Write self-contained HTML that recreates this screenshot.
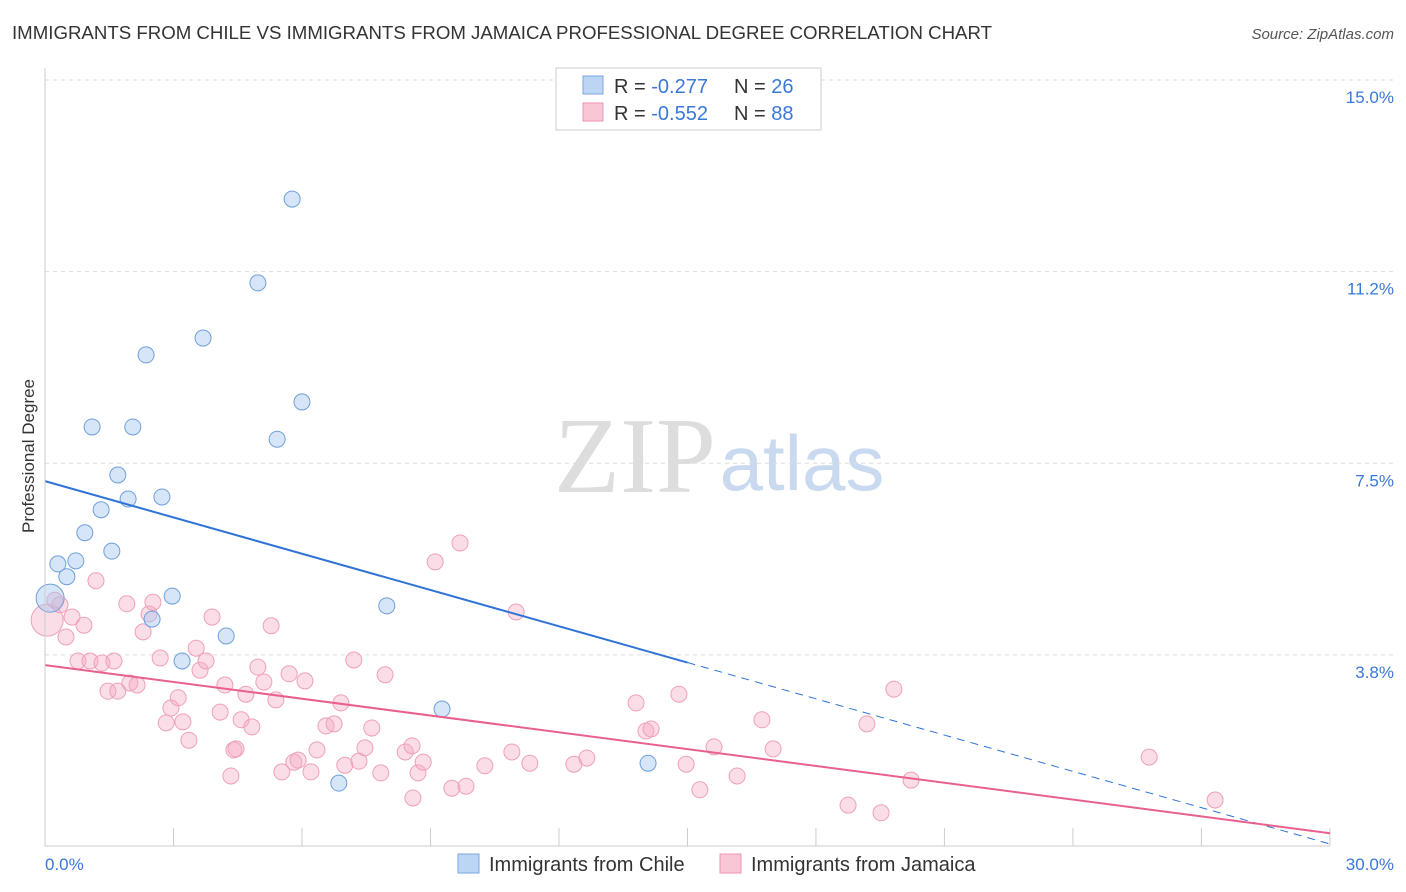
<!DOCTYPE html>
<html><head><meta charset="utf-8">
<style>
body{margin:0;background:#fff;font-family:"Liberation Sans",sans-serif;}
#wrap{position:relative;width:1406px;height:892px;overflow:hidden;}
</style></head>
<body>
<div id="wrap">
<svg id="svg" width="1406" height="892" xmlns="http://www.w3.org/2000/svg">
<text x="12" y="39" font-size="18" fill="#333" textLength="980" lengthAdjust="spacingAndGlyphs">IMMIGRANTS FROM CHILE VS IMMIGRANTS FROM JAMAICA PROFESSIONAL DEGREE CORRELATION CHART</text>
<text x="1394" y="39" font-size="15" fill="#555" font-style="italic" text-anchor="end">Source: ZipAtlas.com</text>
<text x="635" y="492" font-size="108" fill="#ddd" font-family="Liberation Serif,serif" text-anchor="middle">ZIP</text>
<text x="802" y="490" font-size="78" fill="#c9daf0" text-anchor="middle">atlas</text>
<text x="34" y="456" font-size="17" fill="#333" text-anchor="middle" transform="rotate(-90 34 456)">Professional Degree</text>
<g id="grid"></g><g id="pts"></g><g id="lines"></g>
<line x1="45" y1="68" x2="45" y2="846" stroke="#ccc"/>
<line x1="45" y1="846" x2="1330" y2="846" stroke="#ccc"/>
<text x="45" y="870" font-size="17" fill="#3a78d8">0.0%</text>
<text x="1394" y="870" font-size="17" fill="#3a78d8" text-anchor="end">30.0%</text>
<g>
<rect x="556" y="68" width="265" height="62" fill="#fff" stroke="#ccc"/>
<rect x="583" y="76" width="20" height="18" fill="#bcd5f5" stroke="#7aa6e0"/>
<rect x="583" y="103" width="20" height="18" fill="#f9c6d6" stroke="#ef95b3"/>
<text x="614" y="93" font-size="20" fill="#333">R = <tspan fill="#3a78d8">-0.277</tspan><tspan x="734">N = </tspan><tspan fill="#3a78d8">26</tspan></text>
<text x="614" y="120" font-size="20" fill="#333">R = <tspan fill="#3a78d8">-0.552</tspan><tspan x="734">N = </tspan><tspan fill="#3a78d8">88</tspan></text>
</g>
<g>
<rect x="458" y="854" width="21" height="19" fill="#bcd5f5" stroke="#7aa6e0"/>
<text x="489" y="871" font-size="20" fill="#333">Immigrants from Chile</text>
<rect x="720" y="854" width="21" height="19" fill="#f9c6d6" stroke="#ef95b3"/>
<text x="751" y="871" font-size="20" fill="#333">Immigrants from Jamaica</text>
</g>
</svg>
</div>
<script>
const yTicks=[15.0,11.25,7.5,3.75];
const yTickLabels=["15.0%","11.2%","7.5%","3.8%"];
const xTicks=[3,6,9,12,15,18,21,24,27,30];
const chileX=[5.77,4.97,3.69,2.36,6.0,1.10,2.05,5.42,1.70,2.73,1.94,1.31,0.93,1.56,0.30,0.72,0.51,2.97,2.50,4.23,3.20,7.98,9.27,6.86,14.08];
const chileY=[12.67,11.03,9.95,9.62,8.7,8.21,8.21,7.97,7.27,6.84,6.80,6.59,6.14,5.78,5.53,5.59,5.28,4.90,4.45,4.12,3.63,4.71,2.69,1.24,1.63];
const chilePx=[[47,620],[55,600],[60,605],[66,637],[72,617],[84,625],[78,661],[90,661],[96,581],[102,663],[108,691],[114,661],[118,691],[127,604],[130,683],[137,685],[143,632],[149,614],[153,602],[160,658],[166,723],[171,708],[178,698],[183,722],[189,740],[196,648],[200,670],[206,661],[212,617],[220,712],[225,685],[234,750],[236,749],[231,776],[241,720],[246,694],[252,727],[258,667],[264,682],[271,626],[276,700],[282,772],[289,674],[294,762],[298,760],[305,681],[311,772],[317,750],[326,726],[334,724],[341,703],[345,765],[354,660],[359,761],[365,748],[372,728],[381,773],[385,675],[405,752],[412,746],[418,773],[423,762],[413,798],[435,562],[452,788],[460,543],[466,786],[485,766],[512,752],[516,612],[530,763],[574,764],[587,758],[636,703],[646,731],[651,729],[679,694],[686,764],[700,790],[714,747],[737,776],[762,720],[773,749],[848,805],[867,724],[881,813],[894,689],[911,780],[1149,757],[1215,800]];
const jamX=chilePx.map(p=>+((p[0]-45)/42.83).toFixed(2));
const jamY=chilePx.map(p=>+((846.5-p[1])/51.1).toFixed(2));
const chileTrend=[7.15,3.6];
const jamTrend=[3.55,0.26];
const X=v=>45+v*42.83, Y=v=>846.5-v*51.1;
const NS="http://www.w3.org/2000/svg";
function mk(tag,attrs,parent){const e=document.createElementNS(NS,tag);for(const k in attrs)e.setAttribute(k,attrs[k]);parent.appendChild(e);return e;}
const grid=document.getElementById('grid'),svg=document.getElementById('svg');
yTicks.forEach((t,i)=>{
 const l=mk('line',{x1:45,x2:1394,y1:Y(t),y2:Y(t),stroke:'#ddd','stroke-dasharray':'4,4'},grid);
 
 
 const tx=mk('text',{x:1394,y:Y(t)+23,'font-size':17,fill:'#3a78d8','text-anchor':'end'},svg);
 tx.textContent=yTickLabels[i];
 
 
});
xTicks.forEach(t=>{
 const l=mk('line',{x1:X(t),x2:X(t),y1:828,y2:846,stroke:'#ccc'},grid);
 
 
});
const pts=document.getElementById('pts');
jamX.forEach((v,i)=>{
 const c=mk('circle',{cx:X(v),cy:Y(jamY[i]),r:i==0?16:8,fill:'rgba(245,170,195,0.4)',stroke:'#eea0bb','stroke-width':1},pts);
 
 
});
chileX.forEach((v,i)=>{
 const c=mk('circle',{cx:X(v),cy:Y(chileY[i]),r:8,fill:'rgba(165,200,240,0.45)',stroke:'#6f9fdc','stroke-width':1},pts);
 
 
});
const big=mk('circle',{cx:X(0.12),cy:Y(4.86),r:14,fill:'rgba(165,200,240,0.45)',stroke:'#6f9fdc'},pts);


const lines=document.getElementById('lines');
const slope=(chileTrend[1]-chileTrend[0])/15;
let a=mk('line',{x1:X(0),y1:Y(chileTrend[0]),x2:X(15),y2:Y(chileTrend[1]),stroke:'#2f73d6','stroke-width':2},lines);


let b=mk('line',{x1:X(15),y1:Y(chileTrend[1]),x2:X(30),y2:Y(chileTrend[0]+slope*30),stroke:'#2f73d6','stroke-width':1,'stroke-dasharray':'8,6'},lines);


let c=mk('line',{x1:X(0),y1:Y(jamTrend[0]),x2:X(30),y2:Y(jamTrend[1]),stroke:'#e8608e','stroke-width':2},lines);


</script>
</body></html>
